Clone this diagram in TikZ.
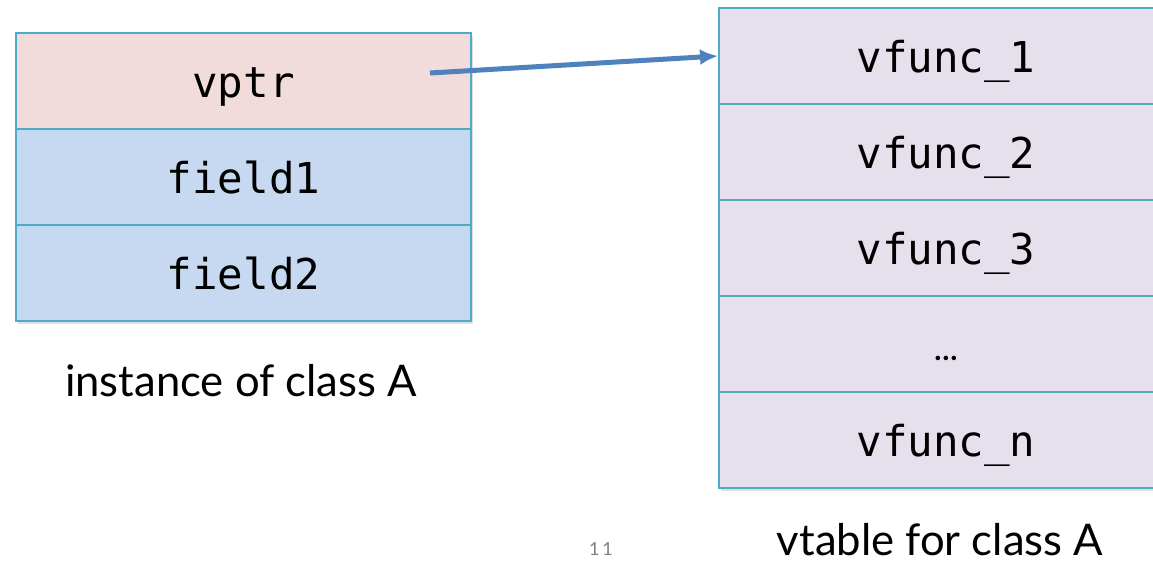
\documentclass[tikz,border=0pt]{standalone}
\usepackage{fontspec}
\setmonofont{DejaVu Sans Mono}
\setsansfont{Lato}
\usetikzlibrary{shadows,arrows.meta}
\definecolor{ptrpink}{HTML}{F2DCDB}
\definecolor{fieldblue}{HTML}{C6D9F0}
\definecolor{tablelav}{HTML}{E5E0EC}
\definecolor{rimcyan}{HTML}{4BACC6}
\definecolor{arrowblue}{HTML}{4F81BD}
\tikzset{
  slot/.style={draw=rimcyan, line width=2pt, minimum height=96pt, inner sep=0pt,
    text height=32pt, text depth=0pt,
    font=\ttfamily\fontsize{42.5}{48}\selectfont,
    drop shadow={shadow xshift=2pt, shadow yshift=-3pt, opacity=0.25}},
  objslot/.style={slot, minimum width=455pt},
  tabslot/.style={slot, minimum width=454pt, fill=tablelav, anchor=west},
  caption/.style={font=\sffamily\fontsize{43.6}{50}\selectfont, inner sep=0pt, anchor=base}
}
\begin{document}
\begin{tikzpicture}[x=1pt,y=-1pt]
  \useasboundingbox (0,0) rectangle (1153,563);
  % the object
  \node[objslot, fill=ptrpink] (vptr) at (243.5,81) {vptr};
  \node[objslot, fill=fieldblue] (field1) at (243.5,177) {field1};
  \node[objslot, fill=fieldblue] (field2) at (243.5,273) {field2};
  \node[caption] (objcap) at (241,396) {instance of class A};
  % the table
  \node[tabslot] (vf1) at (718,56) {vfunc\_1};
  \node[tabslot] (vf2) at (718,152) {vfunc\_2};
  \node[tabslot] (vf3) at (718,248) {vfunc\_3};
  \node[tabslot] (vfdots) at (718,344) {\textsf{\bfseries\fontsize{30}{30}\selectfont\dots}};
  \node[tabslot] (vfn) at (718,440) {vfunc\_n};
  \node[caption] (tabcap) at (940,555) {vtable for class A};
  \node[font=\sffamily\fontsize{18}{20}\selectfont, text=gray] (pageno) at (601,549) {1\,1};
  % pointer
  \coordinate (ptrstart) at (430,73);
  \draw[arrowblue, line width=5pt, -{Latex[length=18pt,width=16pt]}] (ptrstart) -- (vf1.west);
\end{tikzpicture}
\end{document}
